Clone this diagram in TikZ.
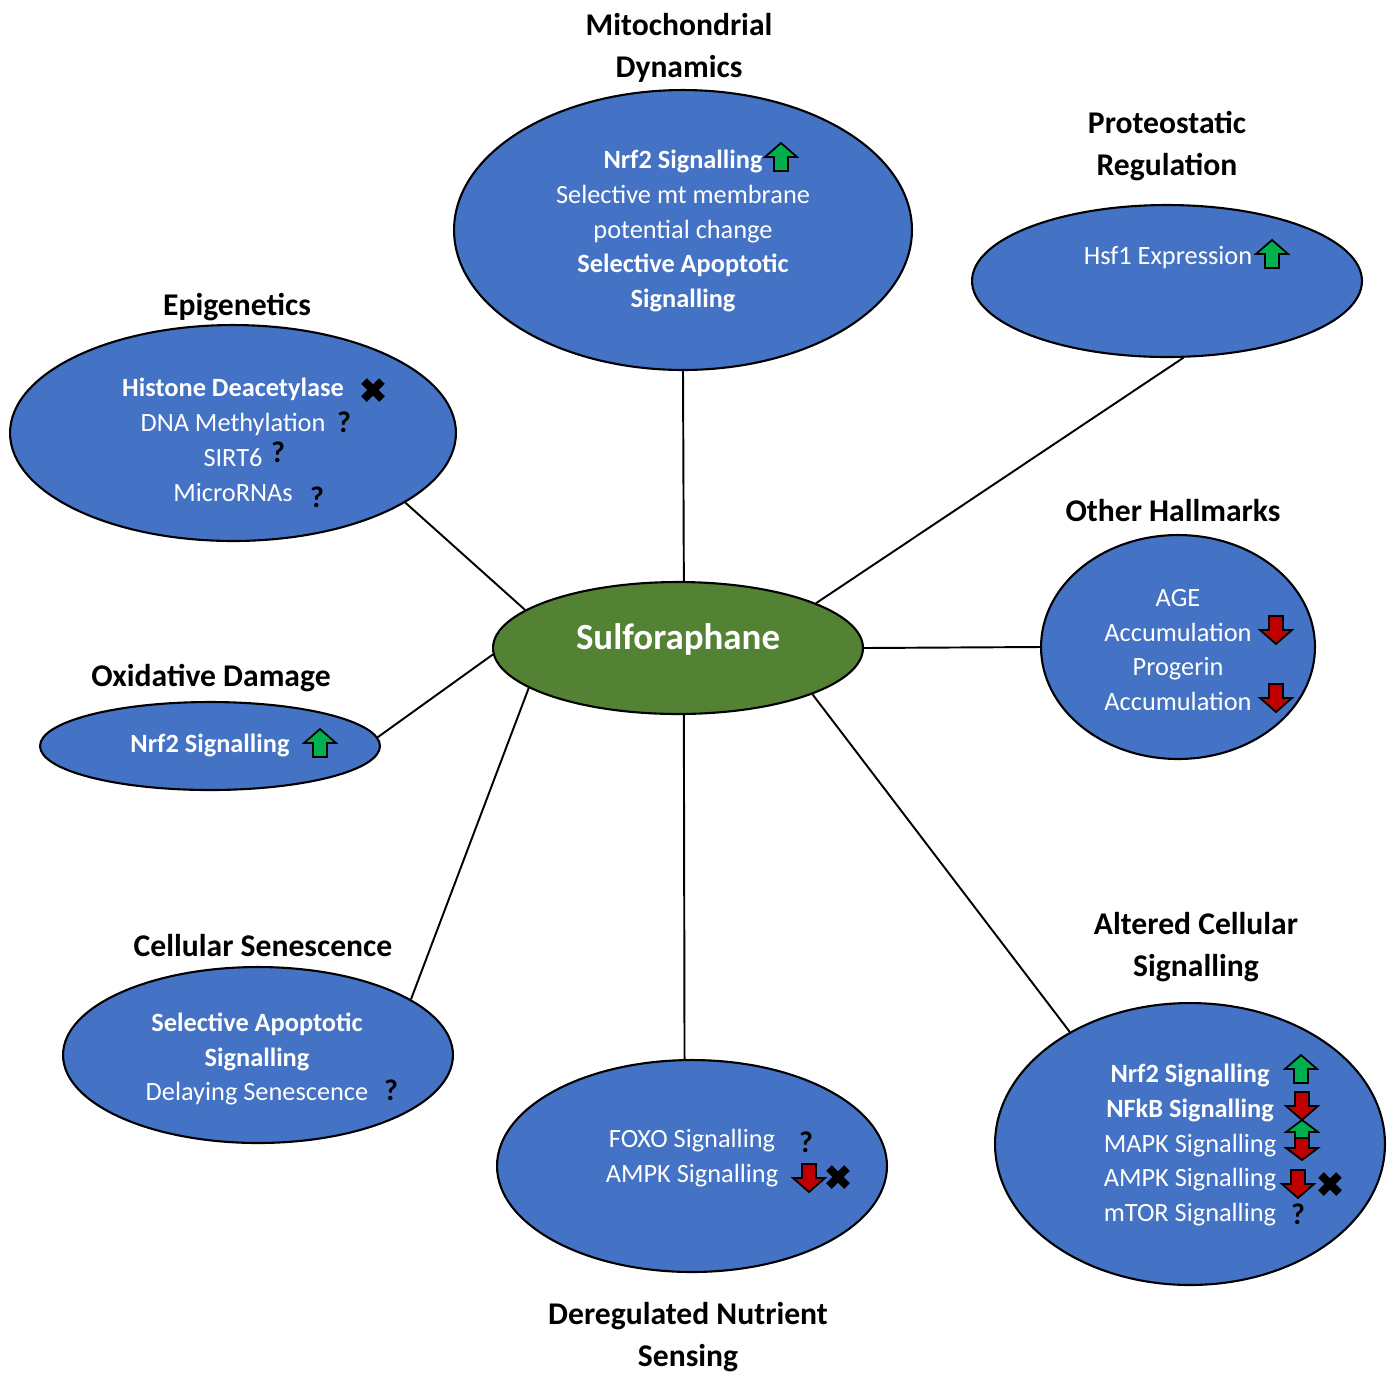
\documentclass[tikz,border=0pt]{standalone}
\usepackage{fontspec}
\setmainfont{Carlito}
\usetikzlibrary{shapes.geometric}
\definecolor{hallblue}{HTML}{4472C4}
\definecolor{sulfgreen}{HTML}{548235}
\definecolor{upgreen}{HTML}{00B050}
\definecolor{downred}{HTML}{C00000}

\begin{document}
\begin{tikzpicture}[x=0.02cm,y=-0.02cm,
  hall node/.style={ellipse,draw=black,line width=1.2pt,fill=hallblue,inner sep=0pt},
  body text/.style={text=white,align=center,inner sep=0pt,font=\fontsize{15}{19.85}\selectfont},
  title text/.style={align=center,inner sep=0pt,font=\bfseries\fontsize{18}{23.8}\selectfont},
  qmark/.style={inner sep=0pt,text=black,font=\bfseries\fontsize{17}{20}\selectfont},
  icon/.style={draw=black,line width=1pt,line join=miter},
  pics/uparr/.style={code={\filldraw[icon,fill=upgreen] (0,-14)--(16,0)--(7,0)--(7,14)--(-7,14)--(-7,0)--(-16,0)--cycle;}},
  pics/downarr/.style={code={\filldraw[icon,fill=downred] (0,14)--(16,0)--(7,0)--(7,-14)--(-7,-14)--(-7,0)--(-16,0)--cycle;}},
  pics/updownarr/.style={code={
      \filldraw[icon,fill=downred] (-7,-4)--(7,-4)--(7,8)--(16,8)--(0,20)--(-16,8)--(-7,8)--cycle;
      \filldraw[icon,fill=upgreen] (0,-20)--(16,-8)--(7,-8)--(7,-2)--(-7,-2)--(-7,-8)--(-16,-8)--cycle;}},
  pics/xmark/.style={code={\draw[line width=4.5pt] (-9,-9)--(9,9) (-9,9)--(9,-9);}}]

  \useasboundingbox (0,0) rectangle (1396,1374);

  % hallmark ellipses
  \node[hall node,minimum width=9.16cm,minimum height=5.6cm] (mito) at (683,230) {};
  \node[hall node,minimum width=7.8cm,minimum height=3.04cm] (prot) at (1167,281) {};
  \node[hall node,minimum width=8.92cm,minimum height=4.32cm] (epi) at (233,433) {};
  \node[hall node,minimum width=5.48cm,minimum height=4.48cm] (other) at (1178,647) {};
  \node[hall node,minimum width=6.8cm,minimum height=1.76cm] (oxid) at (210,746) {};
  \node[hall node,minimum width=7.8cm,minimum height=3.52cm] (senes) at (258,1055) {};
  \node[hall node,minimum width=7.8cm,minimum height=4.24cm] (dereg) at (692,1166) {};
  \node[hall node,minimum width=7.8cm,minimum height=5.64cm] (alter) at (1190,1144) {};
  \node[hall node,fill=sulfgreen,minimum width=7.4cm,minimum height=2.64cm] (sulfo) at (678,648) {};
  \node[text=white,font=\bfseries\fontsize{21}{25}\selectfont] (sulfolabel) at (678,639) {Sulforaphane};

  \path[line width=1.1pt]
    (sulfo.85) edge (mito.-90)
    (sulfo.18) edge (prot.-78)
    (sulfo.166) edge (epi.-22)
    (sulfo.east) edge (other.west)
    (sulfo.182) edge (oxid.3)
    (sulfo.-165) edge (senes.20)
    (sulfo.-85) edge (dereg.94)
    (sulfo.-19) edge (alter.137)
  ;

  % titles
  \node[title text] (mitotitle) at (679,48) {Mitochondrial\\Dynamics};
  \node[title text] (prottitle) at (1167,146) {Proteostatic\\Regulation};
  \node[title text] (epititle) at (237,307) {Epigenetics};
  \node[title text] (othertitle) at (1173,511) {Other Hallmarks};
  \node[title text] (oxidtitle) at (211,678) {Oxidative Damage};
  \node[title text] (senestitle) at (263,945) {Cellular Senescence};
  \node[title text] (altertitle) at (1196,947) {Altered Cellular\\Signalling};
  \node[title text] (deregtitle) at (688,1337) {Deregulated Nutrient\\Sensing};

  % contents
  \node[body text] (mitotext) at (683,231) {\textbf{Nrf2 Signalling}\\Selective mt membrane\\potential change\\\textbf{Selective Apoptotic}\\\textbf{Signalling}};
  \node[body text] (prottext) at (1168,258) {Hsf1 Expression};
  \node[body text] (epitext) at (233,440) {\textbf{Histone Deacetylase}\\DNA Methylation\\SIRT6\\MicroRNAs};
  \node[body text] (othertext) at (1178,650) {AGE\\Accumulation\\Progerin\\Accumulation};
  \node[body text] (oxidtext) at (210,745) {\textbf{Nrf2 Signalling}};
  \node[body text] (senestext) at (257,1059) {\textbf{Selective Apoptotic}\\\textbf{Signalling}\\Delaying Senescence};
  \node[body text] (deregtext) at (692,1158) {FOXO Signalling\\AMPK Signalling};
  \node[body text] (altertext) at (1190,1145) {\textbf{Nrf2 Signalling}\\\textbf{NFkB Signalling}\\MAPK Signalling\\AMPK Signalling\\mTOR Signalling};

  % effects
  \pic at (781,157) {uparr};
  \pic at (1272,254) {uparr};
  \pic at (320,743) {uparr};
  \pic at (1301,1069) {uparr};
  \pic at (1276,630) {downarr};
  \pic at (1276,698) {downarr};
  \pic at (809,1178) {downarr};
  \pic at (1302,1106) {downarr};
  \pic at (1298,1184) {downarr};
  \pic at (1302,1140) {updownarr};
  \pic at (373,390) {xmark};
  \pic at (838,1177) {xmark};
  \pic at (1330,1184) {xmark};
  \node[qmark] (q1) at (344,422) {?};
  \node[qmark] (q2) at (278,452) {?};
  \node[qmark] (q3) at (317,497) {?};
  \node[qmark] (q4) at (391,1090) {?};
  \node[qmark] (q5) at (806,1142) {?};
  \node[qmark] (q6) at (1298,1214) {?};
\end{tikzpicture}
\end{document}
